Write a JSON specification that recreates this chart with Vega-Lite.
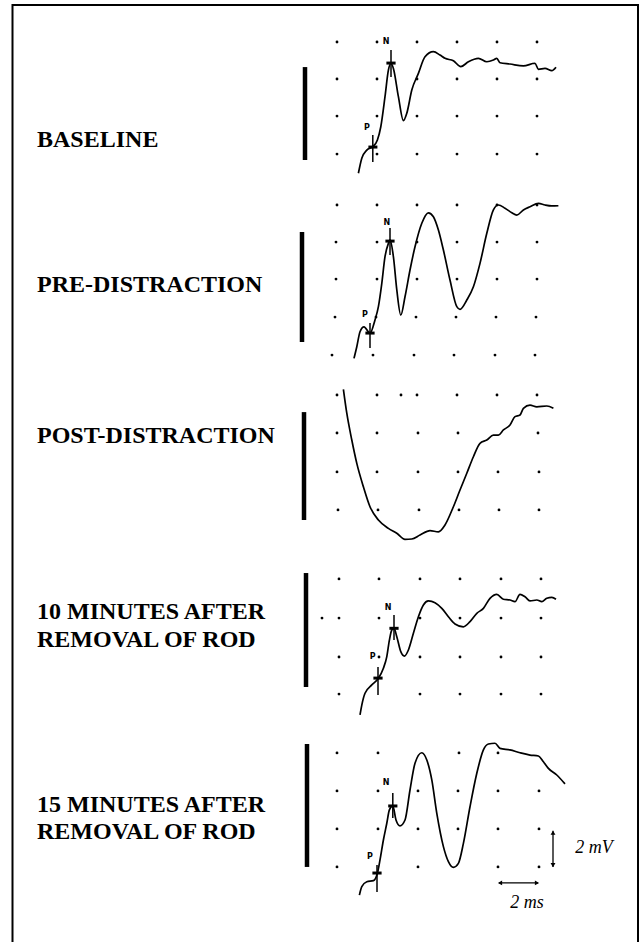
{
  "$schema": "https://vega.github.io/schema/vega-lite/v6.json",
  "width": 641,
  "height": 942,
  "autosize": {"type": "fit", "contains": "padding"},
  "padding": 0,
  "background": "white",
  "config": {"view": {"stroke": null}},
  "datasets": {
    "frame": [{"t": -0.225, "t2": 31.05, "v": 49.32, "v2": -1}],
    "labels": [
      {"text": "BASELINE", "t": 1.0, "v": 42.21},
      {"text": "PRE-DISTRACTION", "t": 1.0, "v": 34.58},
      {"text": "POST-DISTRACTION", "t": 1.0, "v": 26.63},
      {"text": "10 MINUTES AFTER", "t": 1.0, "v": 17.37},
      {"text": "REMOVAL OF ROD", "t": 1.0, "v": 15.89},
      {"text": "15 MINUTES AFTER", "t": 1.0, "v": 7.21},
      {"text": "REMOVAL OF ROD", "t": 1.0, "v": 5.79}
    ],
    "bars": [
      {"panel": "baseline", "t": 14.4, "v": 46.05, "v2": 41.16},
      {"panel": "pre", "t": 14.25, "v": 37.37, "v2": 31.58},
      {"panel": "post", "t": 14.35, "v": 27.89, "v2": 22.21},
      {"panel": "10min", "t": 14.45, "v": 19.42, "v2": 13.42},
      {"panel": "15min", "t": 14.5, "v": 10.42, "v2": 3.95}
    ],
    "grid": [
      {"t": 16, "v": 47.37}, {"t": 18, "v": 47.37}, {"t": 20, "v": 47.37}, {"t": 22, "v": 47.37}, {"t": 24, "v": 47.37}, {"t": 26, "v": 47.37},
      {"t": 16, "v": 45.42}, {"t": 18, "v": 45.42}, {"t": 20, "v": 45.42}, {"t": 22, "v": 45.42}, {"t": 24, "v": 45.42}, {"t": 26, "v": 45.42},
      {"t": 16, "v": 43.47}, {"t": 18, "v": 43.47}, {"t": 20, "v": 43.47}, {"t": 22, "v": 43.47}, {"t": 24, "v": 43.47}, {"t": 26, "v": 43.47},
      {"t": 16, "v": 41.47}, {"t": 18, "v": 41.47}, {"t": 20, "v": 41.47}, {"t": 22, "v": 41.47}, {"t": 24, "v": 41.47}, {"t": 26, "v": 41.47},
      {"t": 16, "v": 38.79}, {"t": 18, "v": 38.79}, {"t": 20, "v": 38.79}, {"t": 22, "v": 38.79}, {"t": 24, "v": 38.79}, {"t": 26, "v": 38.79},
      {"t": 15.95, "v": 36.84}, {"t": 18, "v": 36.84}, {"t": 20, "v": 36.84}, {"t": 22, "v": 36.84}, {"t": 24, "v": 36.84}, {"t": 26, "v": 36.84},
      {"t": 15.95, "v": 34.89}, {"t": 18, "v": 34.89}, {"t": 20, "v": 34.89}, {"t": 22, "v": 34.89}, {"t": 24, "v": 34.89}, {"t": 26, "v": 34.89},
      {"t": 15.9, "v": 32.89}, {"t": 17.95, "v": 32.89}, {"t": 19.95, "v": 32.89}, {"t": 21.95, "v": 32.89}, {"t": 23.95, "v": 32.89}, {"t": 25.95, "v": 32.89},
      {"t": 15.75, "v": 30.89}, {"t": 17.8, "v": 30.89}, {"t": 19.85, "v": 30.89}, {"t": 21.85, "v": 30.89}, {"t": 23.9, "v": 30.89}, {"t": 25.9, "v": 30.89},
      {"t": 16, "v": 28.79}, {"t": 18, "v": 28.79}, {"t": 19.2, "v": 28.79}, {"t": 20, "v": 28.79}, {"t": 22, "v": 28.79}, {"t": 24, "v": 28.79}, {"t": 26, "v": 28.79},
      {"t": 16, "v": 26.79}, {"t": 18, "v": 26.79}, {"t": 20.05, "v": 26.79}, {"t": 22.05, "v": 26.79}, {"t": 26.05, "v": 26.79},
      {"t": 16, "v": 24.74}, {"t": 18, "v": 24.74}, {"t": 20.05, "v": 24.74}, {"t": 22.05, "v": 24.74}, {"t": 24.05, "v": 24.74}, {"t": 26.1, "v": 24.74},
      {"t": 16.05, "v": 22.74}, {"t": 18.05, "v": 22.74}, {"t": 20.1, "v": 22.74}, {"t": 22.1, "v": 22.74}, {"t": 24.1, "v": 22.74}, {"t": 26.1, "v": 22.74},
      {"t": 16.1, "v": 19.11}, {"t": 18.1, "v": 19.11}, {"t": 20.15, "v": 19.11}, {"t": 22.15, "v": 19.11}, {"t": 24.2, "v": 19.11}, {"t": 26.2, "v": 19.11},
      {"t": 15.25, "v": 17.05}, {"t": 16.1, "v": 17.05}, {"t": 18.1, "v": 17.05}, {"t": 20.15, "v": 17.05}, {"t": 22.15, "v": 17.05}, {"t": 24.2, "v": 17.05}, {"t": 26.2, "v": 17.05},
      {"t": 16.1, "v": 15.0}, {"t": 18.1, "v": 15.0}, {"t": 20.15, "v": 15.0}, {"t": 22.15, "v": 15.0}, {"t": 24.2, "v": 15.0}, {"t": 26.2, "v": 15.0},
      {"t": 16.1, "v": 13.05}, {"t": 20.15, "v": 13.05}, {"t": 22.15, "v": 13.05}, {"t": 24.2, "v": 13.05}, {"t": 26.2, "v": 13.05},
      {"t": 16, "v": 9.95}, {"t": 18.05, "v": 9.95}, {"t": 22.1, "v": 9.95}, {"t": 24.05, "v": 9.95},
      {"t": 16, "v": 7.95}, {"t": 18.05, "v": 7.95}, {"t": 20.05, "v": 7.95}, {"t": 22.05, "v": 7.95}, {"t": 24.05, "v": 7.95}, {"t": 26.1, "v": 7.95},
      {"t": 16, "v": 5.95}, {"t": 18.05, "v": 5.95}, {"t": 20.05, "v": 5.95}, {"t": 22.05, "v": 5.95}, {"t": 24.05, "v": 5.95}, {"t": 26.1, "v": 5.95},
      {"t": 16, "v": 3.95}, {"t": 20.05, "v": 3.95}, {"t": 24.05, "v": 3.95}, {"t": 26.1, "v": 3.95}
    ],
    "traces": [
      {"panel": "baseline", "t": 17.07, "v": 40.46}, {"panel": "baseline", "t": 17.24, "v": 41.25}, {"panel": "baseline", "t": 17.49, "v": 41.68}, {"panel": "baseline", "t": 17.79, "v": 41.86}, {"panel": "baseline", "t": 18.02, "v": 42.21}, {"panel": "baseline", "t": 18.19, "v": 42.91}, {"panel": "baseline", "t": 18.4, "v": 44.49}, {"panel": "baseline", "t": 18.57, "v": 45.89}, {"panel": "baseline", "t": 18.69, "v": 46.25}, {"panel": "baseline", "t": 18.82, "v": 45.98}, {"panel": "baseline", "t": 19.07, "v": 44.49}, {"panel": "baseline", "t": 19.32, "v": 43.23}, {"panel": "baseline", "t": 19.49, "v": 43.62}, {"panel": "baseline", "t": 19.74, "v": 44.84}, {"panel": "baseline", "t": 20.07, "v": 45.72}, {"panel": "baseline", "t": 20.4, "v": 46.59}, {"panel": "baseline", "t": 20.82, "v": 46.86}, {"panel": "baseline", "t": 21.15, "v": 46.68}, {"panel": "baseline", "t": 21.4, "v": 46.51}, {"panel": "baseline", "t": 21.82, "v": 46.38}, {"panel": "baseline", "t": 22.19, "v": 46.07}, {"panel": "baseline", "t": 22.57, "v": 46.33}, {"panel": "baseline", "t": 23.07, "v": 46.51}, {"panel": "baseline", "t": 23.49, "v": 46.33}, {"panel": "baseline", "t": 23.82, "v": 46.42}, {"panel": "baseline", "t": 23.99, "v": 46.51}, {"panel": "baseline", "t": 24.15, "v": 46.28}, {"panel": "baseline", "t": 24.65, "v": 46.21}, {"panel": "baseline", "t": 25.32, "v": 46.11}, {"panel": "baseline", "t": 25.9, "v": 46.25}, {"panel": "baseline", "t": 26.07, "v": 45.93}, {"panel": "baseline", "t": 26.4, "v": 45.98}, {"panel": "baseline", "t": 26.74, "v": 45.86}, {"panel": "baseline", "t": 26.95, "v": 46.04},
      {"panel": "pre", "t": 16.85, "v": 30.72}, {"panel": "pre", "t": 16.99, "v": 31.33}, {"panel": "pre", "t": 17.15, "v": 32.12}, {"panel": "pre", "t": 17.35, "v": 32.38}, {"panel": "pre", "t": 17.65, "v": 32.04}, {"panel": "pre", "t": 17.9, "v": 32.74}, {"panel": "pre", "t": 18.07, "v": 33.44}, {"panel": "pre", "t": 18.24, "v": 34.67}, {"panel": "pre", "t": 18.4, "v": 36.07}, {"panel": "pre", "t": 18.57, "v": 36.77}, {"panel": "pre", "t": 18.65, "v": 36.95}, {"panel": "pre", "t": 18.82, "v": 36.07}, {"panel": "pre", "t": 18.99, "v": 34.32}, {"panel": "pre", "t": 19.19, "v": 33.0}, {"panel": "pre", "t": 19.4, "v": 33.96}, {"panel": "pre", "t": 19.65, "v": 35.37}, {"panel": "pre", "t": 19.9, "v": 36.59}, {"panel": "pre", "t": 20.24, "v": 37.83}, {"panel": "pre", "t": 20.57, "v": 38.38}, {"panel": "pre", "t": 20.82, "v": 38.17}, {"panel": "pre", "t": 21.07, "v": 37.47}, {"panel": "pre", "t": 21.32, "v": 36.42}, {"panel": "pre", "t": 21.65, "v": 34.84}, {"panel": "pre", "t": 21.99, "v": 33.44}, {"panel": "pre", "t": 22.15, "v": 33.3}, {"panel": "pre", "t": 22.49, "v": 33.79}, {"panel": "pre", "t": 22.82, "v": 34.49}, {"panel": "pre", "t": 23.15, "v": 35.72}, {"panel": "pre", "t": 23.49, "v": 37.3}, {"panel": "pre", "t": 23.82, "v": 38.53}, {"panel": "pre", "t": 24.07, "v": 38.79}, {"panel": "pre", "t": 24.4, "v": 38.62}, {"panel": "pre", "t": 24.74, "v": 38.38}, {"panel": "pre", "t": 24.99, "v": 38.26}, {"panel": "pre", "t": 25.32, "v": 38.53}, {"panel": "pre", "t": 25.65, "v": 38.7}, {"panel": "pre", "t": 26.07, "v": 38.88}, {"panel": "pre", "t": 26.4, "v": 38.79}, {"panel": "pre", "t": 26.74, "v": 38.74}, {"panel": "pre", "t": 27.07, "v": 38.75},
      {"panel": "post", "t": 16.32, "v": 29.09}, {"panel": "post", "t": 16.49, "v": 27.83}, {"panel": "post", "t": 16.74, "v": 26.42}, {"panel": "post", "t": 16.99, "v": 25.19}, {"panel": "post", "t": 17.32, "v": 23.96}, {"panel": "post", "t": 17.65, "v": 22.91}, {"panel": "post", "t": 18.07, "v": 22.21}, {"panel": "post", "t": 18.57, "v": 21.77}, {"panel": "post", "t": 18.99, "v": 21.51}, {"panel": "post", "t": 19.4, "v": 21.19}, {"panel": "post", "t": 19.74, "v": 21.21}, {"panel": "post", "t": 20.15, "v": 21.42}, {"panel": "post", "t": 20.65, "v": 21.65}, {"panel": "post", "t": 21.07, "v": 21.59}, {"panel": "post", "t": 21.4, "v": 21.95}, {"panel": "post", "t": 21.82, "v": 22.91}, {"panel": "post", "t": 22.15, "v": 23.79}, {"panel": "post", "t": 22.49, "v": 24.67}, {"panel": "post", "t": 22.82, "v": 25.54}, {"panel": "post", "t": 23.15, "v": 26.25}, {"panel": "post", "t": 23.49, "v": 26.42}, {"panel": "post", "t": 23.82, "v": 26.68}, {"panel": "post", "t": 24.07, "v": 26.68}, {"panel": "post", "t": 24.32, "v": 26.95}, {"panel": "post", "t": 24.65, "v": 27.21}, {"panel": "post", "t": 24.9, "v": 27.65}, {"panel": "post", "t": 25.15, "v": 27.74}, {"panel": "post", "t": 25.32, "v": 28.09}, {"panel": "post", "t": 25.65, "v": 28.26}, {"panel": "post", "t": 25.99, "v": 28.17}, {"panel": "post", "t": 26.49, "v": 28.21}, {"panel": "post", "t": 26.82, "v": 28.09},
      {"panel": "10min", "t": 17.15, "v": 11.95}, {"panel": "10min", "t": 17.24, "v": 12.47}, {"panel": "10min", "t": 17.4, "v": 13.09}, {"panel": "10min", "t": 17.74, "v": 13.53}, {"panel": "10min", "t": 18.07, "v": 13.88}, {"panel": "10min", "t": 18.32, "v": 14.41}, {"panel": "10min", "t": 18.49, "v": 15.02}, {"panel": "10min", "t": 18.62, "v": 15.89}, {"panel": "10min", "t": 18.74, "v": 16.42}, {"panel": "10min", "t": 18.85, "v": 16.51}, {"panel": "10min", "t": 18.99, "v": 16.07}, {"panel": "10min", "t": 19.19, "v": 15.28}, {"panel": "10min", "t": 19.37, "v": 15.05}, {"panel": "10min", "t": 19.57, "v": 15.37}, {"panel": "10min", "t": 19.82, "v": 16.25}, {"panel": "10min", "t": 20.07, "v": 17.12}, {"panel": "10min", "t": 20.32, "v": 17.74}, {"panel": "10min", "t": 20.57, "v": 17.95}, {"panel": "10min", "t": 20.9, "v": 17.86}, {"panel": "10min", "t": 21.24, "v": 17.56}, {"panel": "10min", "t": 21.57, "v": 17.12}, {"panel": "10min", "t": 21.9, "v": 16.74}, {"panel": "10min", "t": 22.32, "v": 16.59}, {"panel": "10min", "t": 22.65, "v": 16.86}, {"panel": "10min", "t": 22.99, "v": 17.3}, {"panel": "10min", "t": 23.32, "v": 17.56}, {"panel": "10min", "t": 23.65, "v": 18.09}, {"panel": "10min", "t": 23.99, "v": 18.3}, {"panel": "10min", "t": 24.32, "v": 18.04}, {"panel": "10min", "t": 24.65, "v": 18.0}, {"panel": "10min", "t": 24.9, "v": 17.91}, {"panel": "10min", "t": 25.15, "v": 18.3}, {"panel": "10min", "t": 25.4, "v": 18.17}, {"panel": "10min", "t": 25.65, "v": 17.95}, {"panel": "10min", "t": 25.99, "v": 18.0}, {"panel": "10min", "t": 26.24, "v": 17.91}, {"panel": "10min", "t": 26.49, "v": 18.09}, {"panel": "10min", "t": 26.74, "v": 18.14}, {"panel": "10min", "t": 26.95, "v": 18.04},
      {"panel": "15min", "t": 17.12, "v": 2.47}, {"panel": "15min", "t": 17.24, "v": 2.91}, {"panel": "15min", "t": 17.49, "v": 3.17}, {"panel": "15min", "t": 17.82, "v": 3.23}, {"panel": "15min", "t": 18.02, "v": 3.62}, {"panel": "15min", "t": 18.15, "v": 4.32}, {"panel": "15min", "t": 18.32, "v": 5.37}, {"panel": "15min", "t": 18.49, "v": 6.25}, {"panel": "15min", "t": 18.62, "v": 6.95}, {"panel": "15min", "t": 18.79, "v": 7.16}, {"panel": "15min", "t": 18.95, "v": 6.42}, {"panel": "15min", "t": 19.15, "v": 6.11}, {"panel": "15min", "t": 19.4, "v": 6.42}, {"panel": "15min", "t": 19.65, "v": 8.0}, {"panel": "15min", "t": 19.9, "v": 9.41}, {"panel": "15min", "t": 20.24, "v": 9.96}, {"panel": "15min", "t": 20.49, "v": 9.58}, {"panel": "15min", "t": 20.74, "v": 8.53}, {"panel": "15min", "t": 20.99, "v": 6.77}, {"panel": "15min", "t": 21.32, "v": 5.02}, {"panel": "15min", "t": 21.57, "v": 4.23}, {"panel": "15min", "t": 21.82, "v": 3.93}, {"panel": "15min", "t": 22.07, "v": 4.14}, {"panel": "15min", "t": 22.32, "v": 5.19}, {"panel": "15min", "t": 22.65, "v": 7.12}, {"panel": "15min", "t": 22.99, "v": 8.88}, {"panel": "15min", "t": 23.32, "v": 10.11}, {"panel": "15min", "t": 23.57, "v": 10.42}, {"panel": "15min", "t": 23.9, "v": 10.46}, {"panel": "15min", "t": 24.15, "v": 10.19}, {"panel": "15min", "t": 24.65, "v": 10.11}, {"panel": "15min", "t": 25.15, "v": 9.96}, {"panel": "15min", "t": 25.65, "v": 9.84}, {"panel": "15min", "t": 26.07, "v": 9.79}, {"panel": "15min", "t": 26.32, "v": 9.49}, {"panel": "15min", "t": 26.57, "v": 9.14}, {"panel": "15min", "t": 26.99, "v": 8.79}, {"panel": "15min", "t": 27.4, "v": 8.32}
    ],
    "ticksV": [
      {"peak": "P", "panel": "baseline", "t": 17.79, "v": 42.47, "v2": 41.05},
      {"peak": "N", "panel": "baseline", "t": 18.7, "v": 46.95, "v2": 45.53},
      {"peak": "P", "panel": "pre", "t": 17.65, "v": 32.58, "v2": 31.26},
      {"peak": "N", "panel": "pre", "t": 18.65, "v": 37.58, "v2": 36.16},
      {"peak": "P", "panel": "10min", "t": 18.05, "v": 14.47, "v2": 13.0},
      {"peak": "N", "panel": "10min", "t": 18.85, "v": 17.21, "v2": 15.89},
      {"peak": "P", "panel": "15min", "t": 18.0, "v": 4.05, "v2": 2.63},
      {"peak": "N", "panel": "15min", "t": 18.79, "v": 7.84, "v2": 6.53}
    ],
    "ticksH": [
      {"peak": "P", "panel": "baseline", "t": 17.57, "t2": 18.02, "v": 41.84},
      {"peak": "N", "panel": "baseline", "t": 18.47, "t2": 18.93, "v": 46.26},
      {"peak": "P", "panel": "pre", "t": 17.42, "t2": 17.88, "v": 32.05},
      {"peak": "N", "panel": "pre", "t": 18.42, "t2": 18.88, "v": 36.89},
      {"peak": "P", "panel": "10min", "t": 17.82, "t2": 18.28, "v": 13.89},
      {"peak": "N", "panel": "10min", "t": 18.62, "t2": 19.08, "v": 16.51},
      {"peak": "P", "panel": "15min", "t": 17.77, "t2": 18.23, "v": 3.63},
      {"peak": "N", "panel": "15min", "t": 18.56, "t2": 19.02, "v": 7.16}
    ],
    "peakLabels": [
      {"text": "P", "t": 17.5, "v": 42.84},
      {"text": "N", "t": 18.45, "v": 47.37},
      {"text": "P", "t": 17.4, "v": 33.0},
      {"text": "N", "t": 18.49, "v": 37.84},
      {"text": "P", "t": 17.79, "v": 15.02},
      {"text": "N", "t": 18.55, "v": 17.58},
      {"text": "P", "t": 17.65, "v": 4.49},
      {"text": "N", "t": 18.45, "v": 8.37}
    ],
    "scaleRules": [
      {"what": "2 mV", "t": 26.8, "t2": 26.8, "v": 3.95, "v2": 5.85},
      {"what": "2 ms", "t": 24.1, "t2": 26.05, "v": 3.11, "v2": 3.11}
    ],
    "arrowHeads": [
      {"t": 26.8, "v": 5.75, "shape": "triangle-up"},
      {"t": 26.8, "v": 4.05, "shape": "triangle-down"},
      {"t": 24.15, "v": 3.11, "shape": "triangle-left"},
      {"t": 26.0, "v": 3.11, "shape": "triangle-right"}
    ],
    "scaleText": [
      {"text": "2 mV", "t": 28.85, "v": 4.95},
      {"text": "2 ms", "t": 25.5, "v": 2.05}
    ]
  },
  "layer": [
    {
      "data": {"name": "frame"},
      "mark": {"type": "rect", "fill": null, "fillOpacity": 0, "stroke": "black", "strokeWidth": 2, "clip": true},
      "encoding": {
        "x": {"field": "t", "type": "quantitative", "scale": {"domain": [-0.85, 31.2], "nice": false, "zero": false}, "axis": null},
        "x2": {"field": "t2"},
        "y": {"field": "v", "type": "quantitative", "scale": {"domain": [0, 49.58], "nice": false, "zero": false}, "axis": null},
        "y2": {"field": "v2"}
      }
    },
    {
      "data": {"name": "labels"},
      "mark": {"type": "text", "font": "Liberation Serif", "fontWeight": "bold", "fontSize": 24, "align": "left", "baseline": "middle", "color": "black"},
      "encoding": {
        "x": {"field": "t", "type": "quantitative", "axis": null},
        "y": {"field": "v", "type": "quantitative", "axis": null},
        "text": {"field": "text"}
      }
    },
    {
      "data": {"name": "bars"},
      "mark": {"type": "rule", "strokeWidth": 4.5, "color": "black"},
      "encoding": {
        "x": {"field": "t", "type": "quantitative", "axis": null},
        "y": {"field": "v", "type": "quantitative", "axis": null},
        "y2": {"field": "v2"}
      }
    },
    {
      "data": {"name": "grid"},
      "mark": {"type": "point", "filled": true, "size": 8, "color": "black", "opacity": 1},
      "encoding": {
        "x": {"field": "t", "type": "quantitative", "axis": null},
        "y": {"field": "v", "type": "quantitative", "axis": null}
      }
    },
    {
      "data": {"name": "traces"},
      "mark": {"type": "line", "interpolate": "monotone", "strokeWidth": 1.7, "color": "black"},
      "encoding": {
        "x": {"field": "t", "type": "quantitative", "axis": null},
        "y": {"field": "v", "type": "quantitative", "axis": null},
        "detail": {"field": "panel"}
      }
    },
    {
      "data": {"name": "ticksV"},
      "mark": {"type": "rule", "strokeWidth": 1.5, "color": "black"},
      "encoding": {
        "x": {"field": "t", "type": "quantitative", "axis": null},
        "y": {"field": "v", "type": "quantitative", "axis": null},
        "y2": {"field": "v2"}
      }
    },
    {
      "data": {"name": "ticksH"},
      "mark": {"type": "rule", "strokeWidth": 3, "color": "black"},
      "encoding": {
        "x": {"field": "t", "type": "quantitative", "axis": null},
        "x2": {"field": "t2"},
        "y": {"field": "v", "type": "quantitative", "axis": null}
      }
    },
    {
      "data": {"name": "peakLabels"},
      "mark": {"type": "text", "font": "DejaVu Sans", "fontWeight": "bold", "fontSize": 8, "align": "center", "baseline": "middle", "color": "black"},
      "encoding": {
        "x": {"field": "t", "type": "quantitative", "axis": null},
        "y": {"field": "v", "type": "quantitative", "axis": null},
        "text": {"field": "text"}
      }
    },
    {
      "data": {"name": "scaleRules"},
      "mark": {"type": "rule", "strokeWidth": 1.3, "color": "black"},
      "encoding": {
        "x": {"field": "t", "type": "quantitative", "axis": null},
        "x2": {"field": "t2"},
        "y": {"field": "v", "type": "quantitative", "axis": null},
        "y2": {"field": "v2"}
      }
    },
    {
      "data": {"name": "arrowHeads"},
      "mark": {"type": "point", "filled": true, "size": 24, "color": "black", "opacity": 1},
      "encoding": {
        "x": {"field": "t", "type": "quantitative", "axis": null},
        "y": {"field": "v", "type": "quantitative", "axis": null},
        "shape": {"field": "shape", "type": "nominal", "scale": null, "legend": null}
      }
    },
    {
      "data": {"name": "scaleText"},
      "mark": {"type": "text", "font": "Liberation Serif", "fontStyle": "italic", "fontSize": 18, "align": "center", "baseline": "middle", "color": "black"},
      "encoding": {
        "x": {"field": "t", "type": "quantitative", "axis": null},
        "y": {"field": "v", "type": "quantitative", "axis": null},
        "text": {"field": "text"}
      }
    }
  ]
}
